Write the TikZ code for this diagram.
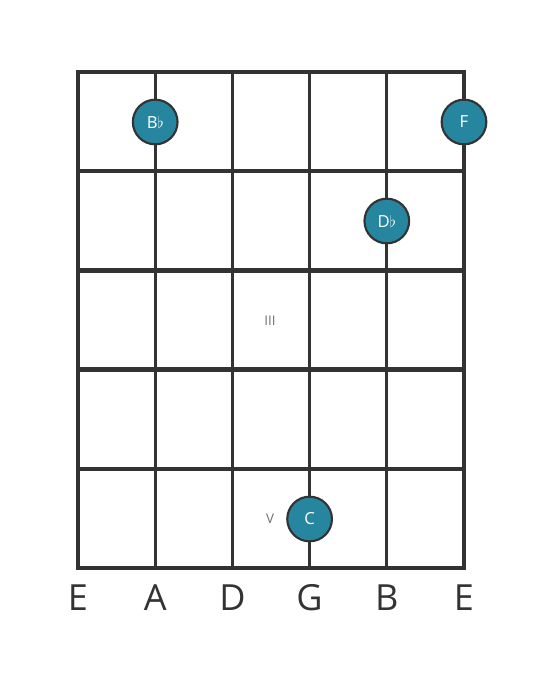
\documentclass[tikz,border=0pt]{standalone}
\usepackage{fontspec}
\setmainfont{Open Sans}
\definecolor{board}{HTML}{333333}
\definecolor{dotcol}{HTML}{27869F}
\tikzset{
  note/.style={circle,draw=board,line width=1.6pt,fill=dotcol,minimum size=33.5pt,
    inner sep=0pt,text=white,font=\fontsize{12.5}{12.5}\selectfont},
  strlab/.style={text=board,font=\fontsize{27}{27}\selectfont},
  fretnum/.style={text=board!70,font=\fontsize{10}{10}\selectfont}
}
\begin{document}
\begin{tikzpicture}[x=0.75pt,y=-0.75pt,line cap=rect]
\useasboundingbox (0,0) rectangle (559,682);
% strings
\foreach \s in {0,...,5}
  \draw[board,line width=2.3pt] (78+77.2*\s,72) -- (78+77.2*\s,568);
% frets
\foreach \f in {0,...,5}
  \draw[board,line width=3.2pt] (78,72+99.2*\f) -- (464,72+99.2*\f);
% fret numbers
\node[fretnum] (III) at (270,321) {III};
\node[fretnum] (V) at (270,519) {V};
% notes
\node[note] (Bb) at (155.2,122) {B$\flat$};
\node[note] (F) at (464,122) {F};
\node[note] (Db) at (386.8,221) {D$\flat$};
\node[note] (C) at (309.6,519) {C};
% string names
\foreach \n/\s in {E1/0,A/1,D/2,G/3,B/4,E2/5}
  \node[strlab] (l\n) at (78+77.2*\s,598) {\ifnum\s=0 E\else\ifnum\s=5 E\else\n\fi\fi};
\end{tikzpicture}
\end{document}
